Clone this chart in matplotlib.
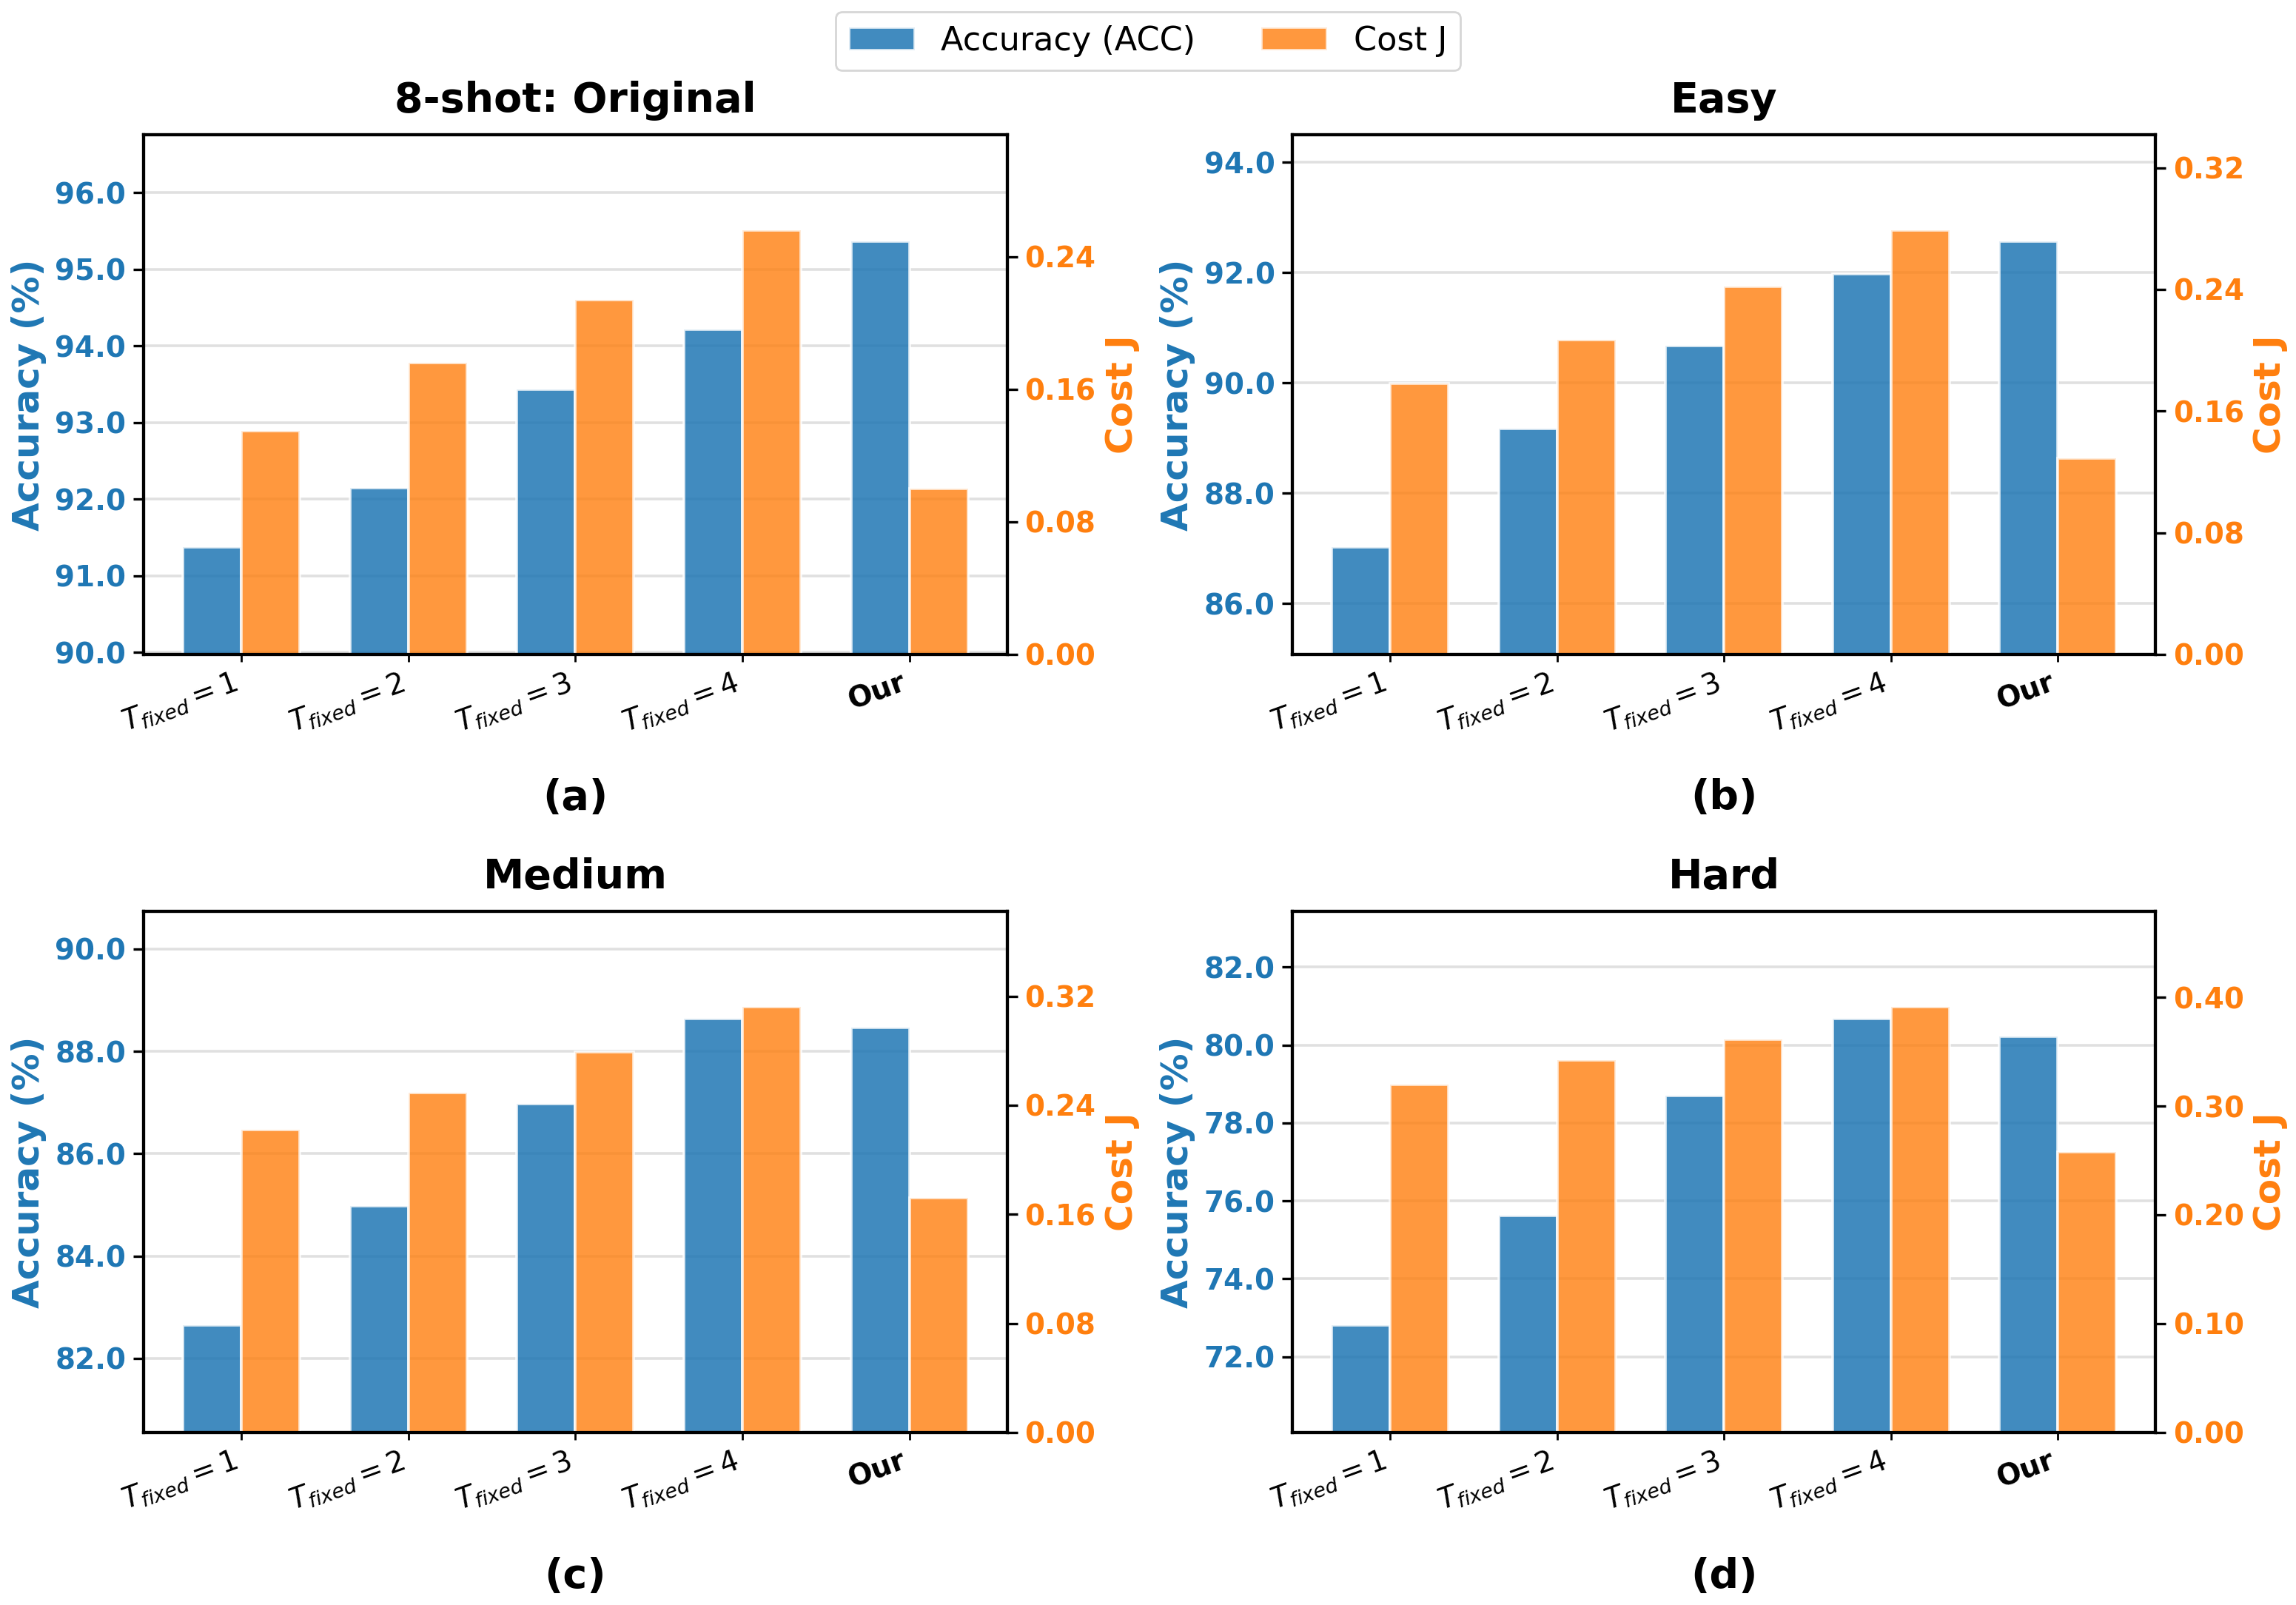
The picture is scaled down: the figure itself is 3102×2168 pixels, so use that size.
import matplotlib
matplotlib.use('Agg')
import matplotlib.pyplot as plt
import numpy as np
from matplotlib.ticker import MaxNLocator, FormatStrFormatter

plt.rcParams['font.family'] = ['DejaVu Sans']

categories = ['$T_{fixed}=1$', '$T_{fixed}=2$', '$T_{fixed}=3$', '$T_{fixed}=4$', 'Our']
titles = ['8-shot: Original', 'Easy', 'Medium', 'Hard']
panel_labels = ['(a)', '(b)', '(c)', '(d)']

acc_original = [91.37, 92.15, 93.43, 94.21, 95.36]
acc_easy = [87.02, 89.17, 90.67, 91.97, 92.56]
acc_medium = [82.65, 84.98, 86.97, 88.64, 88.47]
acc_hard = [72.81, 75.62, 78.70, 80.68, 80.22]

cost_original = [0.135, 0.176, 0.214, 0.256, 0.100]
cost_easy = [0.178, 0.207, 0.242, 0.279, 0.129]
cost_medium = [0.222, 0.249, 0.279, 0.312, 0.172]
cost_hard = [0.320, 0.342, 0.361, 0.391, 0.258]

acc_sets = [acc_original, acc_easy, acc_medium, acc_hard]
cost_sets = [cost_original, cost_easy, cost_medium, cost_hard]

blue = '#1f77b4'
orange = '#ff7f0e'

fig = plt.figure(figsize=(15.51, 10.84), dpi=200)
rects = [(0.0625, 0.5923, 0.3762, 0.3238),
         (0.5629, 0.5923, 0.3759, 0.3238),
         (0.0625, 0.1075, 0.3762, 0.3247),
         (0.5629, 0.1075, 0.3759, 0.3247)]

x = np.arange(len(categories))
w = 0.35
handles = None
for i in range(4):
    ax = fig.add_axes(rects[i])
    ax2 = ax.twinx()
    acc = acc_sets[i]
    cost = cost_sets[i]
    b1 = ax.bar(x - w / 2, acc, w, color=blue, alpha=0.85, edgecolor='white',
                linewidth=1.3, label='Accuracy (ACC)')
    b2 = ax2.bar(x + w / 2, cost, w, color=orange, alpha=0.8, edgecolor='white',
                 linewidth=1.3, label='Cost J')
    if handles is None:
        handles = [b1, b2]
    rng = max(acc) - min(acc)
    ax.set_ylim(min(acc) - 0.35 * rng, max(acc) + 0.35 * rng)
    ax2.set_ylim(0, max(cost) * 1.225)
    ax.yaxis.set_major_locator(MaxNLocator(nbins=7, steps=[1, 2, 2.5, 5, 10]))
    ax.yaxis.set_major_formatter(FormatStrFormatter('%.1f'))
    ax2.yaxis.set_major_locator(MaxNLocator(nbins=5, steps=[1, 2, 4, 5, 8, 10]))
    ax2.yaxis.set_major_formatter(FormatStrFormatter('%.2f'))

    ax.yaxis.grid(True, color='#e0e0e0', linewidth=1.3)
    ax.set_axisbelow(True)

    for a in (ax, ax2):
        for s in a.spines.values():
            s.set_linewidth(1.5)

    ax.tick_params(axis='y', labelcolor=blue, labelsize=14, length=5, width=1.2)
    ax2.tick_params(axis='y', labelcolor=orange, labelsize=14, length=5, width=1.2)
    for lbl in ax.get_yticklabels() + ax2.get_yticklabels():
        lbl.set_fontweight('bold')
    ax.set_xticks(x)
    ax.set_xticklabels(categories, rotation=20, ha='right', fontsize=14)
    for lbl in ax.get_xticklabels():
        if not lbl.get_text().startswith('$'):
            lbl.set_fontweight('bold')
    ax.tick_params(axis='x', length=3.5, width=1.0)

    ax.set_title(titles[i], fontsize=20, fontweight='bold', pad=11)
    ax.set_ylabel('Accuracy (%)', color=blue, fontsize=18, fontweight='bold')
    ax2.set_ylabel('Cost J', color=orange, fontsize=18, fontweight='bold')
    ax.text(0.5, -0.277, panel_labels[i], transform=ax.transAxes, ha='center',
            va='center', fontsize=20, fontweight='bold')

fig.legend(handles, ['Accuracy (ACC)', 'Cost J'], loc='upper center',
           bbox_to_anchor=(0.5, 0.9926), ncol=2, borderaxespad=0,
           prop={'size': 16, 'weight': 'normal'})

fig.savefig('out.png', dpi=200)
